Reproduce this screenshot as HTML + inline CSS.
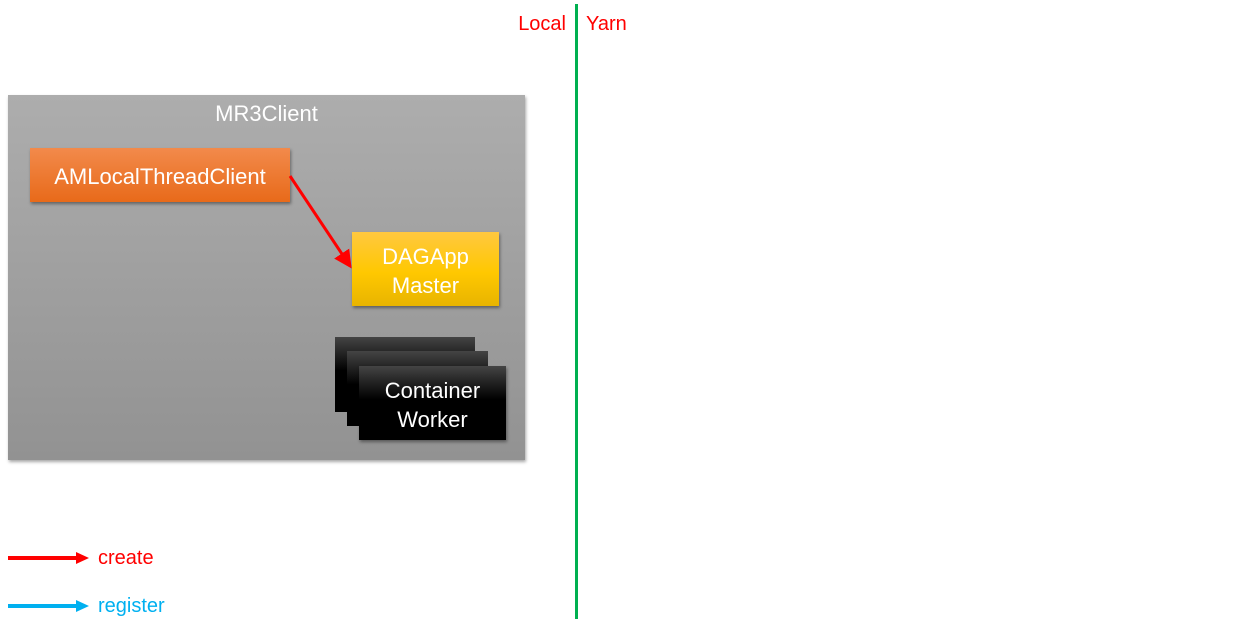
<!DOCTYPE html>
<html><head><style>
body{margin:0;width:1248px;height:626px;background:#fff;position:relative;overflow:hidden;font-family:"Liberation Sans",sans-serif;}
.a{position:absolute;box-sizing:border-box;}
.t{color:#fff;display:flex;align-items:center;justify-content:center;text-align:center;line-height:29px;font-size:22px;padding-top:3px;}
</style></head><body>
<div class="a" style="left:575px;top:4px;width:3px;height:615px;background:#00b050"></div>
<div class="a" style="left:496px;top:13px;width:70px;text-align:right;color:#f00;font-size:20px">Local</div>
<div class="a" style="left:586px;top:13px;color:#f00;font-size:20px">Yarn</div>
<div class="a" style="left:8px;top:95px;width:517px;height:365px;background:linear-gradient(#adadad,#929292);box-shadow:1px 2px 3px rgba(0,0,0,.35)"></div>
<div class="a" style="left:8px;top:101px;width:517px;text-align:center;color:#fff;font-size:22px">MR3Client</div>
<div class="a t" style="left:30px;top:148px;width:260px;height:54px;background:linear-gradient(#f28a4b,#e86a1a);box-shadow:1px 2px 3px rgba(0,0,0,.4)">AMLocalThreadClient</div>
<div class="a t" style="left:352px;top:232px;width:147px;height:74px;background:linear-gradient(#ffc840,#ffc800 55%,#e8b400);box-shadow:1px 2px 3px rgba(0,0,0,.4)">DAGApp<br>Master</div>
<div class="a" style="left:335px;top:337px;width:140px;height:75px;background:linear-gradient(#444,#000 45%)"></div>
<div class="a" style="left:347px;top:351px;width:141px;height:75px;background:linear-gradient(#444,#000 45%)"></div>
<div class="a t" style="left:359px;top:366px;width:147px;height:74px;background:linear-gradient(#444,#000 45%);box-shadow:1px 2px 3px rgba(0,0,0,.4)">Container<br>Worker</div>
<svg class="a" style="left:0;top:0" width="1248" height="626">
<defs><marker id="r" markerWidth="6" markerHeight="6" refX="5" refY="3" orient="auto" markerUnits="strokeWidth"><path d="M0,0L6,3L0,6z" fill="#f00"/></marker></defs>
<line x1="290" y1="176" x2="350" y2="266" stroke="#f00" stroke-width="3" marker-end="url(#r)"/>
<line x1="8" y1="558" x2="78" y2="558" stroke="#f00" stroke-width="4"/>
<path d="M76,552L89,558L76,564z" fill="#f00"/>
<line x1="8" y1="606" x2="78" y2="606" stroke="#00b0f0" stroke-width="4"/>
<path d="M76,600L89,606L76,612z" fill="#00b0f0"/>
</svg>
<div class="a" style="left:98px;top:547px;color:#f00;font-size:20px">create</div>
<div class="a" style="left:98px;top:595px;color:#00b0f0;font-size:20px">register</div>
</body></html>
